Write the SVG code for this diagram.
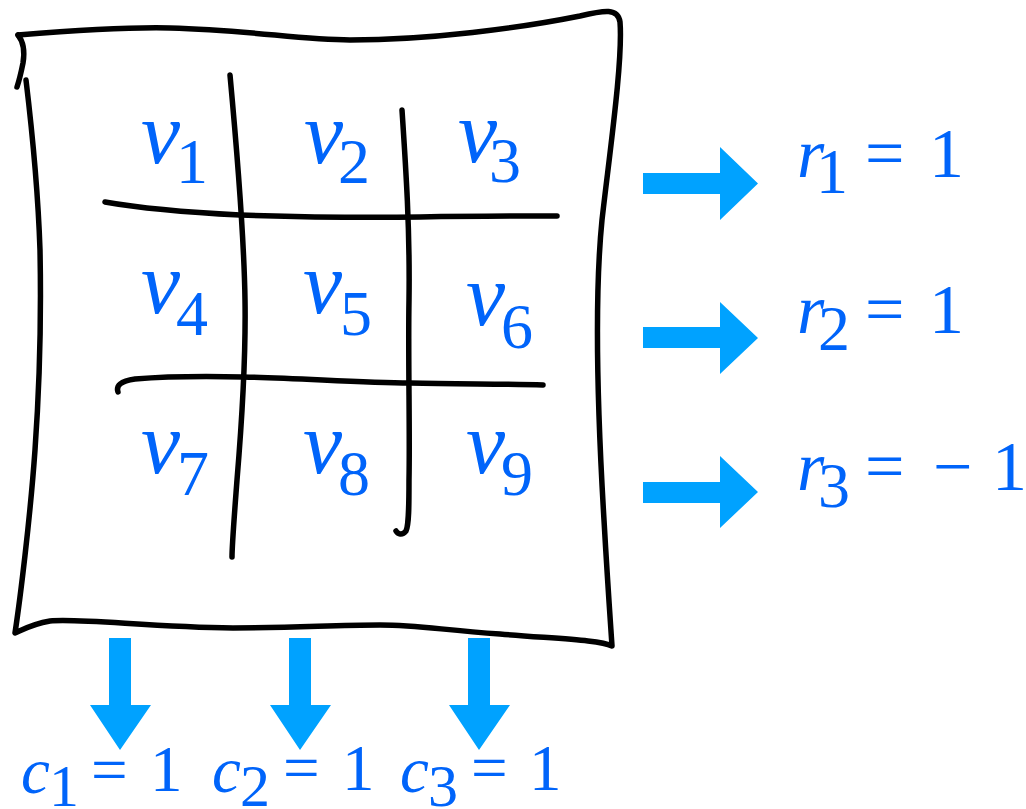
<svg xmlns="http://www.w3.org/2000/svg" width="1026" height="809" viewBox="0 0 1026 809">
<rect width="1026" height="809" fill="#fff"/>
<g id="frame" fill="none" stroke="#000" stroke-width="5.5" stroke-linecap="round" stroke-linejoin="round">
<path d="M18,35 Q26,45 23,63 Q20,78 17,87"/>
<path d="M18,35 C80,30 130,27 170,28 C250,30 300,40 350,40 C430,40 520,28 580,16 C605,10 618,8 620,22 C623,60 610,150 602,220 C594,300 598,420 604,520 C608,590 611,630 612,646 C600,640 560,639 500,634 C440,630 420,625 380,625 C330,625 300,628 233,628 C150,627 80,618 50,621 C32,624 22,630 15,633 C20,600 30,520 35,450 C40,380 41,300 40,250 C38,190 32,130 26,80"/>
</g>
<g id="grid" fill="none" stroke="#000" stroke-width="5.5" stroke-linecap="round" stroke-linejoin="round">
<path d="M230,75 C236,140 244,230 245,300 C246,360 242,420 237,480 C234,520 232,545 232,557"/>
<path d="M402,110 C406,170 410,230 409,300 C408,360 410,430 409,480 C409,505 409,525 406,531 C402,536 398,534 396,531"/>
<path d="M105,202 C150,210 200,213 240,215 C300,217 350,218 420,217 C480,216 530,216 557,216"/>
<path d="M118,392 C116,386 120,381 135,379 C160,377 200,376 243,377 C300,378 360,383 410,383 C460,384 510,384 543,385"/>
</g>
<g id="cells" fill="#0064FA" font-family="Liberation Serif">
<g id="v1"><text x="141" y="163" font-family="Liberation Serif" font-size="88" font-style="italic">v</text><text x="176" y="183" font-family="Liberation Serif" font-size="64">1</text></g>
<g id="v2"><text x="304" y="163" font-family="Liberation Serif" font-size="88" font-style="italic">v</text><text x="338" y="183" font-family="Liberation Serif" font-size="64">2</text></g>
<g id="v3"><text x="458" y="162" font-family="Liberation Serif" font-size="88" font-style="italic">v</text><text x="489" y="182" font-family="Liberation Serif" font-size="64">3</text></g>
<g id="v4"><text x="141" y="313" font-family="Liberation Serif" font-size="88" font-style="italic">v</text><text x="176" y="335" font-family="Liberation Serif" font-size="64">4</text></g>
<g id="v5"><text x="303" y="313" font-family="Liberation Serif" font-size="88" font-style="italic">v</text><text x="340" y="335" font-family="Liberation Serif" font-size="64">5</text></g>
<g id="v6"><text x="466" y="325" font-family="Liberation Serif" font-size="88" font-style="italic">v</text><text x="501" y="348" font-family="Liberation Serif" font-size="64">6</text></g>
<g id="v7"><text x="141" y="473" font-family="Liberation Serif" font-size="88" font-style="italic">v</text><text x="177" y="495" font-family="Liberation Serif" font-size="64">7</text></g>
<g id="v8"><text x="303" y="473" font-family="Liberation Serif" font-size="88" font-style="italic">v</text><text x="338" y="495" font-family="Liberation Serif" font-size="64">8</text></g>
<g id="v9"><text x="466" y="473" font-family="Liberation Serif" font-size="88" font-style="italic">v</text><text x="501" y="495" font-family="Liberation Serif" font-size="64">9</text></g>
</g>
<g id="connectors" fill="#00A2FF">
<polygon points="643,173 720,173 720,147 758,183.5 720,220 720,194 643,194"/>
<polygon points="643,327 720,327 720,302 758,338 720,374 720,348 643,348"/>
<polygon points="643,482 720,482 720,456 758,492 720,528 720,503 643,503"/>
<polygon points="109,638 131,638 131,705 151,705 120,750 90,705 109,705"/>
<polygon points="289,638 311,638 311,705 331,705 300,750 270,705 289,705"/>
<polygon points="468,638 490,638 490,705 510,705 479,750 449,705 468,705"/>
</g>
<g id="rows" fill="#0064FA" font-family="Liberation Serif">
<g id="r1"><text x="797" y="177" font-family="Liberation Serif" font-size="70" font-style="italic">r</text><text x="816" y="193" font-family="Liberation Serif" font-size="64">1</text><text x="865" y="177" font-family="Liberation Serif" font-size="70">=</text><text x="929" y="177" font-family="Liberation Serif" font-size="70">1</text></g>
<g id="r2"><text x="797" y="333" font-family="Liberation Serif" font-size="70" font-style="italic">r</text><text x="818" y="350" font-family="Liberation Serif" font-size="64">2</text><text x="865" y="333" font-family="Liberation Serif" font-size="70">=</text><text x="929" y="333" font-family="Liberation Serif" font-size="70">1</text></g>
<g id="r3"><text x="797" y="490" font-family="Liberation Serif" font-size="70" font-style="italic">r</text><text x="818" y="507" font-family="Liberation Serif" font-size="64">3</text><text x="865" y="490" font-family="Liberation Serif" font-size="70">=</text><text x="933" y="490" font-family="Liberation Serif" font-size="70">&#8722;</text><text x="992" y="490" font-family="Liberation Serif" font-size="70">1</text></g>
</g>
<g id="cols" fill="#0064FA" font-family="Liberation Serif">
<g id="c1"><text x="21" y="793" font-family="Liberation Serif" font-size="65" font-style="italic">c</text><text x="49" y="806" font-family="Liberation Serif" font-size="60">1</text><text x="91" y="792" font-family="Liberation Serif" font-size="65">=</text><text x="150" y="791" font-family="Liberation Serif" font-size="65">1</text></g>
<g id="c2"><text x="212" y="792" font-family="Liberation Serif" font-size="65" font-style="italic">c</text><text x="240" y="806" font-family="Liberation Serif" font-size="60">2</text><text x="283" y="790" font-family="Liberation Serif" font-size="65">=</text><text x="342" y="790" font-family="Liberation Serif" font-size="65">1</text></g>
<g id="c3"><text x="400" y="792" font-family="Liberation Serif" font-size="65" font-style="italic">c</text><text x="428" y="806" font-family="Liberation Serif" font-size="60">3</text><text x="471" y="790" font-family="Liberation Serif" font-size="65">=</text><text x="529" y="790" font-family="Liberation Serif" font-size="65">1</text></g>
</g>
</svg>
